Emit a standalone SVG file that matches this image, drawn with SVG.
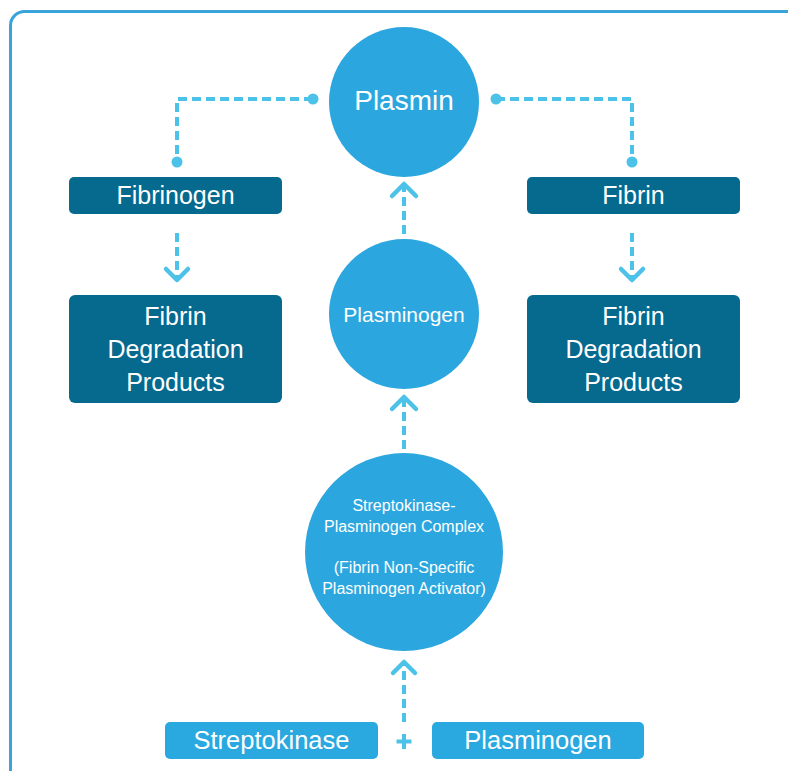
<svg xmlns="http://www.w3.org/2000/svg" width="788" height="771" viewBox="0 0 788 771">
<defs>
<style>
.circ{fill:#2ca6de}
.dark{fill:#06698e}
.light{fill:#2aa8e0}
.t{font-family:"Liberation Sans",Arial,sans-serif;fill:#ffffff;text-anchor:middle}
.dash{fill:none;stroke:#4cc2e8;stroke-width:4;stroke-dasharray:9 5}
.head{fill:none;stroke:#4cc2e8;stroke-width:4.5;stroke-linecap:round;stroke-linejoin:round}
.dot{fill:#4cc2e8}
</style>
</defs>
<rect x="0" y="0" width="788" height="771" fill="#ffffff"/>
<rect x="10.5" y="11.5" width="800" height="790" rx="14" fill="none" stroke="#3aa3d9" stroke-width="3"/>

<g id="connectors">
<path class="dash" d="M313 99 H177 V162"/>
<circle class="dot" cx="313" cy="99" r="5.5"/>
<circle class="dot" cx="177" cy="162" r="5.5"/>
<path class="dash" d="M496 99 H632 V162"/>
<circle class="dot" cx="496" cy="99" r="5.5"/>
<circle class="dot" cx="632" cy="162" r="5.5"/>

<path class="dash" d="M177 233 V279"/>
<path class="head" d="M166 269 L177 280 L188 269"/>
<path class="dash" d="M632 233 V279"/>
<path class="head" d="M621 269 L632 280 L643 269"/>

<path class="dash" d="M404 234 V187"/>
<path class="head" d="M392 196 L404 184 L416 196"/>
<path class="dash" d="M404 449 V400"/>
<path class="head" d="M392 409 L404 397 L416 409"/>
<path class="dash" d="M404 722 V665"/>
<path class="head" d="M393 673 L404 662 L415 673"/>
</g>

<g id="plasmin">
<circle class="circ" cx="404" cy="102" r="75"/>
<text class="t" x="404" y="110" font-size="28">Plasmin</text>
</g>

<g id="fibrinogen">
<rect class="dark" x="69" y="177" width="213" height="37" rx="5"/>
<text class="t" x="175.5" y="204" font-size="25">Fibrinogen</text>
</g>

<g id="fibrin">
<rect class="dark" x="527" y="177" width="213" height="37" rx="5"/>
<text class="t" x="633.5" y="204" font-size="25">Fibrin</text>
</g>

<g id="fdp-left">
<rect class="dark" x="69" y="295" width="213" height="108" rx="6"/>
<text class="t" font-size="25"><tspan x="175.5" y="325">Fibrin</tspan><tspan x="175.5" y="358">Degradation</tspan><tspan x="175.5" y="391">Products</tspan></text>
</g>

<g id="fdp-right">
<rect class="dark" x="527" y="295" width="213" height="108" rx="6"/>
<text class="t" font-size="25"><tspan x="633.5" y="325">Fibrin</tspan><tspan x="633.5" y="358">Degradation</tspan><tspan x="633.5" y="391">Products</tspan></text>
</g>

<g id="plasminogen-circle">
<circle class="circ" cx="404" cy="314" r="75"/>
<text class="t" x="404" y="322" font-size="21">Plasminogen</text>
</g>

<g id="complex">
<circle class="circ" cx="404" cy="552" r="99"/>
<text class="t" font-size="16"><tspan x="404" y="511">Streptokinase-</tspan><tspan x="404" y="532">Plasminogen Complex</tspan><tspan x="404" y="573">(Fibrin Non-Specific</tspan><tspan x="404" y="594">Plasminogen Activator)</tspan></text>
</g>

<g id="streptokinase">
<rect class="light" x="165" y="722" width="213" height="37" rx="5"/>
<text class="t" x="271.5" y="749" font-size="25.5">Streptokinase</text>
</g>

<g id="plus">
<path d="M404 734 V749 M396.5 741.5 H411.5" stroke="#4cc2e8" stroke-width="4" fill="none"/>
</g>

<g id="plasminogen-box">
<rect class="light" x="432" y="722" width="212" height="37" rx="5"/>
<text class="t" x="538" y="749" font-size="25.5">Plasminogen</text>
</g>
</svg>
